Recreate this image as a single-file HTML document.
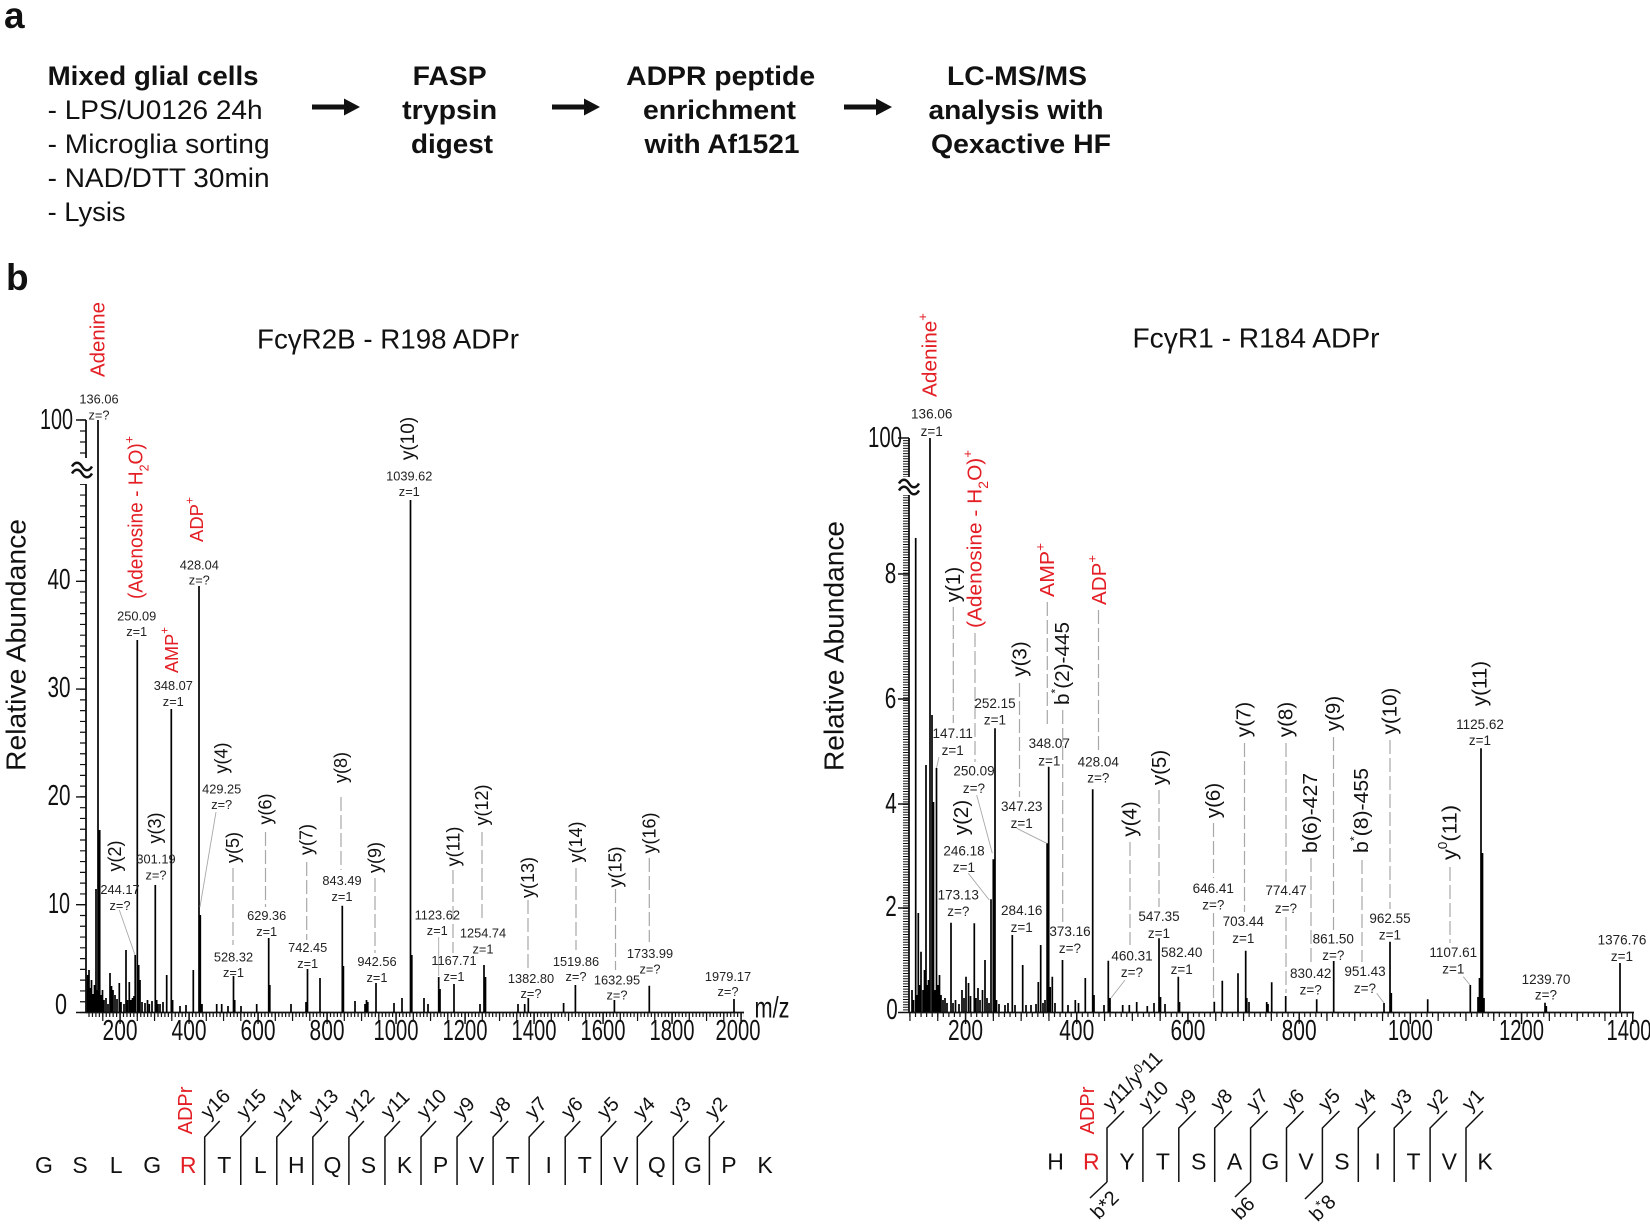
<!DOCTYPE html>
<html><head><meta charset="utf-8"><style>
html,body{margin:0;padding:0;background:#fff;}
svg{display:block;}
text{font-family:"Liberation Sans",Arial,sans-serif;}
</style></head><body>
<svg width="1650" height="1230" viewBox="0 0 1650 1230" xmlns="http://www.w3.org/2000/svg">
<rect width="1650" height="1230" fill="#fff"/>

<!-- ===== Panel a ===== -->
<text x="4" y="28" font-size="37" font-weight="bold" fill="#111">a</text>
<text x="6" y="290" font-size="37" font-weight="bold" fill="#111">b</text>

<g font-size="27" fill="#111" lengthAdjust="spacingAndGlyphs">
<text x="47.6" y="85" font-weight="bold" textLength="211" lengthAdjust="spacingAndGlyphs">Mixed glial cells</text>
<text x="47.6" y="119" textLength="215" lengthAdjust="spacingAndGlyphs">- LPS/U0126 24h</text>
<text x="47.6" y="153" textLength="222" lengthAdjust="spacingAndGlyphs">- Microglia sorting</text>
<text x="47.6" y="187" textLength="222" lengthAdjust="spacingAndGlyphs">- NAD/DTT 30min</text>
<text x="47.6" y="221" textLength="78" lengthAdjust="spacingAndGlyphs">- Lysis</text>
</g>
<g font-size="27" fill="#111" font-weight="bold" text-anchor="middle">
<text x="449.7" y="85" textLength="74" lengthAdjust="spacingAndGlyphs">FASP</text>
<text x="449.7" y="119" textLength="95" lengthAdjust="spacingAndGlyphs">trypsin</text>
<text x="452" y="153" textLength="82" lengthAdjust="spacingAndGlyphs">digest</text>
<text x="720.6" y="85" textLength="189" lengthAdjust="spacingAndGlyphs">ADPR peptide</text>
<text x="719.5" y="119" textLength="153" lengthAdjust="spacingAndGlyphs">enrichment</text>
<text x="722" y="153" textLength="155" lengthAdjust="spacingAndGlyphs">with Af1521</text>
<text x="1017" y="85" textLength="140" lengthAdjust="spacingAndGlyphs">LC-MS/MS</text>
<text x="1016" y="119" textLength="175" lengthAdjust="spacingAndGlyphs">analysis with</text>
<text x="1021" y="153" textLength="180" lengthAdjust="spacingAndGlyphs">Qexactive HF</text>
</g>
<g fill="#111">
<path d="M312,104.5 H344 V98.5 L360,107 L344,115.5 V109.5 H312 Z"/>
<path d="M552,104.5 H584 V98.5 L600,107 L584,115.5 V109.5 H552 Z"/>
<path d="M844,104.5 H876 V98.5 L892,107 L876,115.5 V109.5 H844 Z"/>
</g>

<!-- ===== Titles ===== -->
<text x="388" y="339" font-size="27.6" text-anchor="middle" dominant-baseline="central" fill="#111" textLength="262" lengthAdjust="spacingAndGlyphs">FcγR2B - R198 ADPr</text>
<text x="1256" y="338" font-size="27.6" text-anchor="middle" dominant-baseline="central" fill="#111" textLength="247" lengthAdjust="spacingAndGlyphs">FcγR1 - R184 ADPr</text>

<!-- Y axis titles -->
<text transform="translate(16,645) rotate(-90)" font-size="28" text-anchor="middle" dominant-baseline="central" fill="#111" textLength="252" lengthAdjust="spacingAndGlyphs">Relative Abundance</text>
<text transform="translate(834,646) rotate(-90)" font-size="28" text-anchor="middle" dominant-baseline="central" fill="#111" textLength="250" lengthAdjust="spacingAndGlyphs">Relative Abundance</text>

<!-- ===== LEFT AXES ===== -->
<g stroke="#111" fill="none">
<path d="M86,420 V458 M86,484 V1012.5 M86,1012.5 H744" stroke-width="1.8"/>
<line x1="83" y1="1013.1" x2="83" y2="484" stroke-width="6" stroke-dasharray="1.2 9.58"/>
<line x1="83" y1="419.4" x2="83" y2="458" stroke-width="6" stroke-dasharray="1.2 9.8"/>
<path d="M76,420H86 M76,581.3H86 M76,689.1H86 M76,796.9H86 M76,904.7H86 M76,1012.5H86" stroke-width="1.4"/>
<line x1="88.4" y1="1015" x2="744" y2="1015" stroke-width="4" stroke-dasharray="1.2 2.25"/>
<line x1="102.2" y1="1017" x2="744" y2="1017" stroke-width="8" stroke-dasharray="1.2 16.05"/>
<path d="M120.06,1012.5V1024 M189.06,1012.5V1024 M258.06,1012.5V1024 M327.06,1012.5V1024 M396.06,1012.5V1024 M465.06,1012.5V1024 M534.06,1012.5V1024 M603.06,1012.5V1024 M672.06,1012.5V1024 M741.06,1012.5V1024" stroke-width="1.4"/>
<path d="M72,466.5 c3,-5 7,-5 10,0 s7,5 10,0 M72,473.5 c3,-5 7,-5 10,0 s7,5 10,0" stroke-width="2.5"/>
</g>
<g font-size="29" text-anchor="middle" dominant-baseline="central" fill="#111">
<text x="56.5" y="420" textLength="33" lengthAdjust="spacingAndGlyphs">100</text>
<text x="59" y="580" textLength="23" lengthAdjust="spacingAndGlyphs">40</text>
<text x="59" y="688" textLength="23" lengthAdjust="spacingAndGlyphs">30</text>
<text x="59" y="796" textLength="23" lengthAdjust="spacingAndGlyphs">20</text>
<text x="59" y="904" textLength="22" lengthAdjust="spacingAndGlyphs">10</text>
<text x="61" y="1005" textLength="12" lengthAdjust="spacingAndGlyphs">0</text>
<text x="120.06" y="1031" textLength="35" lengthAdjust="spacingAndGlyphs">200</text>
<text x="189.06" y="1031" textLength="35" lengthAdjust="spacingAndGlyphs">400</text>
<text x="258.06" y="1031" textLength="35" lengthAdjust="spacingAndGlyphs">600</text>
<text x="327.06" y="1031" textLength="35" lengthAdjust="spacingAndGlyphs">800</text>
<text x="396.06" y="1031" textLength="45" lengthAdjust="spacingAndGlyphs">1000</text>
<text x="465.06" y="1031" textLength="45" lengthAdjust="spacingAndGlyphs">1200</text>
<text x="534.06" y="1031" textLength="45" lengthAdjust="spacingAndGlyphs">1400</text>
<text x="603.06" y="1031" textLength="45" lengthAdjust="spacingAndGlyphs">1600</text>
<text x="672.06" y="1031" textLength="45" lengthAdjust="spacingAndGlyphs">1800</text>
<text x="738" y="1031" textLength="45" lengthAdjust="spacingAndGlyphs">2000</text>
<text x="772" y="1008" font-size="30" textLength="35" lengthAdjust="spacingAndGlyphs">m/z</text>
</g>

<!-- LEFT bars -->
<path stroke="#000" stroke-width="1.7" fill="none" d="M87.5,1012V975 M89,1012V970 M90.5,1012V988 M91.5,1012V980 M93,1012V994 M94.5,1012V985 M96,1012V889 M97,1012V990 M98,1012V420 M99.7,1012V830 M101,1012V995 M102.5,1012V990 M104,1012V1000 M106,1012V998 M108,1012V1004 M110,1012V973 M111.5,1012V986 M113,1012V990 M115,1012V995 M117,1012V999 M119.3,1012V983 M121,1012V1002 M124,1012V1004 M126,1012V950 M127.5,1012V1000 M129.3,1012V982 M131,1012V1000 M132.5,1012V998 M134,1012V996 M135.2,1012V955 M137.3,1012V640 M138.7,1012V965 M140,1012V980 M142,1012V1002 M145,1012V1003 M147.5,1012V1000 M149.3,1012V1004 M152,1012V1001 M155.3,1012V885 M156.7,1012V1000 M158,1012V1004 M160,1012V1004 M163,1012V1002 M166.7,1012V975 M171.3,1012V709 M172.6,1012V1000 M180,1012V1006 M186,1012V1005 M193.3,1012V970 M199,1012V586 M200.3,1012V915 M202,1012V1004 M216.7,1012V1004 M221.7,1012V1004 M228,1012V1006 M233.5,1012V976 M234.7,1012V1000 M241,1012V1006 M256.7,1012V1004 M268.7,1012V938 M269.8,1012V985 M291,1012V1004 M306,1012V1002 M307.5,1012V969 M320,1012V978 M342.3,1012V905.7 M343.4,1012V966 M355,1012V1001 M365,1012V1004 M366.5,1012V1000 M367.8,1012V1002 M376,1012V983 M394,1012V1003 M402,1012V998 M410.5,1012V500 M411.8,1012V955 M424,1012V998 M428,1012V1004 M438.7,1012V977 M440,1012V989 M454,1012V984 M480,1012V1004 M484,1012V965 M485.5,1012V977 M518,1012V1004 M524.7,1012V1004 M528.3,1012V998 M563.6,1012V1003 M575.4,1012V985 M614.4,1012V1000 M649.3,1012V985.7 M734,1012V999"/>

<!-- LEFT dashed / connector lines -->
<g stroke="#a8a8a8" stroke-width="1.2" fill="none">
<path stroke-dasharray="14 4" d="M233,868V945 M265.5,832V907 M306.7,862V940 M341,797V870 M375,878V953 M453,870V953 M482,832V920 M528,900V968 M576,868V950 M615.5,889V970 M649.3,858V942"/>
<path stroke-width="0.9" d="M216,812L200,907 M119.3,910L135,955 M438.7,937V976"/>
</g>

<!-- LEFT red labels -->
<g fill="#e31e24" text-anchor="middle" dominant-baseline="central" font-size="20">
<text transform="translate(98.3,339.5) rotate(-90)" textLength="75" lengthAdjust="spacingAndGlyphs">Adenine</text>
<text transform="translate(136.7,517.5) rotate(-90)" textLength="163" lengthAdjust="spacingAndGlyphs">(Adenosine - H<tspan baseline-shift="sub" font-size="13">2</tspan>O)<tspan baseline-shift="super" font-size="13">+</tspan></text>
<text transform="translate(171.7,650) rotate(-90)" font-size="18.5" textLength="46" lengthAdjust="spacingAndGlyphs">AMP<tspan baseline-shift="super" font-size="12">+</tspan></text>
<text transform="translate(196.7,519.5) rotate(-90)" font-size="18.5" textLength="45" lengthAdjust="spacingAndGlyphs">ADP<tspan baseline-shift="super" font-size="12">+</tspan></text>
</g>

<!-- LEFT black rotated labels -->
<g fill="#111" text-anchor="middle" dominant-baseline="central" font-size="18">
<text transform="translate(115,856) rotate(-90)">y(2)</text>
<text transform="translate(155,828) rotate(-90)">y(3)</text>
<text transform="translate(221.7,758) rotate(-90)">y(4)</text>
<text transform="translate(233,847.5) rotate(-90)">y(5)</text>
<text transform="translate(265.5,809) rotate(-90)">y(6)</text>
<text transform="translate(306.7,839.5) rotate(-90)">y(7)</text>
<text transform="translate(341,767.5) rotate(-90)">y(8)</text>
<text transform="translate(375,857.5) rotate(-90)">y(9)</text>
<text transform="translate(408.3,438.5) rotate(-90)" font-size="19">y(10)</text>
<text transform="translate(453.3,846.5) rotate(-90)">y(11)</text>
<text transform="translate(482,805) rotate(-90)">y(12)</text>
<text transform="translate(528,877.5) rotate(-90)">y(13)</text>
<text transform="translate(576,842) rotate(-90)">y(14)</text>
<text transform="translate(615.5,867) rotate(-90)">y(15)</text>
<text transform="translate(649.3,833) rotate(-90)">y(16)</text>
</g>

<!-- LEFT number labels -->
<g fill="#222" text-anchor="middle" dominant-baseline="central" font-size="12.8">
<text x="99" y="399">136.06</text><text x="99" y="415">z=?</text>
<text x="136.7" y="616">250.09</text><text x="136.7" y="631.7">z=1</text>
<text x="173.3" y="685.7">348.07</text><text x="173.3" y="701.7">z=1</text>
<text x="199.3" y="565">428.04</text><text x="199.3" y="580">z=?</text>
<text x="409.3" y="476">1039.62</text><text x="409.3" y="491.7">z=1</text>
<text x="221.7" y="789">429.25</text><text x="221.7" y="804.7">z=?</text>
<text x="156" y="859">301.19</text><text x="156" y="875">z=?</text>
<text x="120" y="889.3">244.17</text><text x="120" y="905.7">z=?</text>
<text x="233.5" y="957">528.32</text><text x="233.5" y="972.3">z=1</text>
<text x="266.7" y="915.7">629.36</text><text x="266.7" y="931.3">z=1</text>
<text x="307.7" y="947.7">742.45</text><text x="307.7" y="963.3">z=1</text>
<text x="342" y="880.7">843.49</text><text x="342" y="896.7">z=1</text>
<text x="377" y="961.7">942.56</text><text x="377" y="977.7">z=1</text>
<text x="437.3" y="915">1123.62</text><text x="437.3" y="930.7">z=1</text>
<text x="454" y="960.7">1167.71</text><text x="454" y="976.7">z=1</text>
<text x="483" y="933">1254.74</text><text x="483" y="949">z=1</text>
<text x="531" y="978.3">1382.80</text><text x="531" y="993.3">z=?</text>
<text x="576" y="961.7">1519.86</text><text x="576" y="976.7">z=?</text>
<text x="617" y="980">1632.95</text><text x="617" y="995">z=?</text>
<text x="650" y="953.3">1733.99</text><text x="650" y="969">z=?</text>
<text x="728" y="976.7">1979.17</text><text x="728" y="991.7">z=?</text>
</g>

<!-- ===== RIGHT AXES ===== -->
<g stroke="#111" fill="none">
<path d="M909,438 V477 M909,495 V1012.5 M909,1012.5 H1634" stroke-width="1.8"/>
<line x1="906" y1="1013" x2="906" y2="495" stroke-width="6" stroke-dasharray="1 1.6"/>
<line x1="906" y1="437.5" x2="906" y2="477" stroke-width="6" stroke-dasharray="1 1.6"/>
<path d="M898,438H909 M898,574H909 M898,699H909 M898,804H909 M898,908H909 M898,1012.5H909" stroke-width="1.4"/>
<line x1="909.35" y1="1015" x2="1634" y2="1015" stroke-width="4" stroke-dasharray="1.2 4.36"/>
<line x1="909.35" y1="1017" x2="1634" y2="1017" stroke-width="8" stroke-dasharray="1.2 26.6"/>
<path d="M965.55,1012.5V1024 M1076.75,1012.5V1024 M1187.95,1012.5V1024 M1299.15,1012.5V1024 M1410.35,1012.5V1024 M1521.55,1012.5V1024 M1632.75,1012.5V1024" stroke-width="1.4"/>
<path d="M899,483.5 c3,-5 7,-5 10,0 s7,5 10,0 M899,490.5 c3,-5 7,-5 10,0 s7,5 10,0" stroke-width="2.5"/>
</g>
<g font-size="29" text-anchor="middle" dominant-baseline="central" fill="#111">
<text x="885" y="438" textLength="34" lengthAdjust="spacingAndGlyphs">100</text>
<text x="890.5" y="574" textLength="11.5" lengthAdjust="spacingAndGlyphs">8</text>
<text x="890.5" y="699" textLength="11.5" lengthAdjust="spacingAndGlyphs">6</text>
<text x="891" y="804" textLength="11.5" lengthAdjust="spacingAndGlyphs">4</text>
<text x="891" y="907" textLength="11.5" lengthAdjust="spacingAndGlyphs">2</text>
<text x="892" y="1010" textLength="11.5" lengthAdjust="spacingAndGlyphs">0</text>
<text x="965.55" y="1031" textLength="35" lengthAdjust="spacingAndGlyphs">200</text>
<text x="1076.75" y="1031" textLength="35" lengthAdjust="spacingAndGlyphs">400</text>
<text x="1187.95" y="1031" textLength="35" lengthAdjust="spacingAndGlyphs">600</text>
<text x="1299.15" y="1031" textLength="35" lengthAdjust="spacingAndGlyphs">800</text>
<text x="1410.35" y="1031" textLength="45" lengthAdjust="spacingAndGlyphs">1000</text>
<text x="1521.55" y="1031" textLength="45" lengthAdjust="spacingAndGlyphs">1200</text>
<text x="1629" y="1031" textLength="45" lengthAdjust="spacingAndGlyphs">1400</text>
</g>

<!-- RIGHT bars -->
<path stroke="#000" stroke-width="1.7" fill="none" d="M912,1012V990 M913.5,1012V1000 M915.7,1012V538 M917,1012V995 M918.3,1012V913 M920,1012V985 M921,1012V951.7 M923,1012V990 M924.5,1012V970 M926,1012V765 M927.5,1012V985 M928.5,1012V980 M930,1012V438 M932,1012V715 M933.5,1012V802 M935,1012V990 M936.5,1012V768 M938,1012V985 M939.5,1012V975 M941,1012V995 M943,1012V1000 M945,1012V998 M947,1012V1003 M951,1012V922.7 M953,1012V1003 M955.5,1012V1000 M959,1012V1004 M962,1012V990 M964,1012V998 M966,1012V976.7 M968.5,1012V983 M970.5,1012V996 M974.3,1012V923.3 M976,1012V998 M978,1012V988 M980,1012V1000 M982.5,1012V990 M985,1012V960 M987,1012V998 M989,1012V1003 M991,1012V899.3 M993.3,1012V859.3 M995,1012V728.3 M996.5,1012V1000 M999,1012V1004 M1005,1012V1005 M1008,1012V1003 M1012.3,1012V935 M1015,1012V1005 M1022.7,1012V965 M1026,1012V1005 M1031,1012V1005 M1036,1012V1004 M1038.3,1012V982 M1040.7,1012V945 M1043,1012V1003 M1045,1012V1000 M1047.1,1012V843.3 M1048.7,1012V766.7 M1050.2,1012V987 M1052.3,1012V976.7 M1055,1012V1003 M1062.5,1012V960 M1068,1012V1005 M1075.3,1012V1000 M1078.5,1012V1003 M1085.3,1012V978 M1092.7,1012V789.3 M1094,1012V995 M1104,1012V1005 M1108.3,1012V960.7 M1110,1012V998 M1122.7,1012V1005 M1129.3,1012V1005 M1136.7,1012V1002 M1147.3,1012V1006 M1154,1012V1003 M1159,1012V938.3 M1160.5,1012V997 M1165,1012V1004 M1178.3,1012V976.7 M1179.5,1012V1002 M1214.3,1012V1001.7 M1222.3,1012V980.7 M1238,1012V973.3 M1245.7,1012V950.7 M1246.8,1012V998 M1249,1012V1002 M1266.7,1012V1002 M1268,1012V1004 M1271.7,1012V982.3 M1285.7,1012V996 M1316.7,1012V999.3 M1333.7,1012V961 M1384,1012V1003 M1390,1012V941.7 M1391.3,1012V993 M1427.7,1012V999.3 M1470.3,1012V985 M1478,1012V997 M1479.5,1012V978 M1481,1012V748.3 M1482.5,1012V853 M1484,1012V998 M1545,1012V1002.7 M1546.3,1012V1006 M1620,1012V963"/>

<!-- RIGHT dashed / connectors -->
<g stroke="#a8a8a8" stroke-width="1.2" fill="none">
<path stroke-dasharray="14 4" d="M953.3,607V723 M975,633V762 M1047.3,602V728 M1098.5,610V752 M1019.5,683V797 M1062.7,710V922 M1130,842V945 M1159,790V907 M1213.5,823V878 M1213.5,913V998 M1244.5,743V912 M1286,743V882 M1286,917V993 M1311,858V964 M1333.5,737V930 M1362,860V962 M1390,740V909 M1450,867V943"/>
<path stroke-width="0.9" d="M939,757L936.5,768 M976.7,795L992.3,853.3 M968.3,873.3L989.3,900 M1016.7,828.3L1046.7,843.3 M1125,980L1111,998 M1376.7,993.3L1384,1003 M1463.3,976.7L1470,985"/>
</g>

<!-- RIGHT red labels -->
<g fill="#e31e24" text-anchor="middle" dominant-baseline="central" font-size="20.5">
<text transform="translate(930,355) rotate(-90)" textLength="84" lengthAdjust="spacingAndGlyphs">Adenine<tspan baseline-shift="super" font-size="13">+</tspan></text>
<text transform="translate(975,539) rotate(-90)" textLength="178" lengthAdjust="spacingAndGlyphs">(Adenosine - H<tspan baseline-shift="sub" font-size="14">2</tspan>O)<tspan baseline-shift="super" font-size="13">+</tspan></text>
<text transform="translate(1047.3,570) rotate(-90)" textLength="54" lengthAdjust="spacingAndGlyphs">AMP<tspan baseline-shift="super" font-size="13">+</tspan></text>
<text transform="translate(1099.3,580) rotate(-90)" textLength="50" lengthAdjust="spacingAndGlyphs">ADP<tspan baseline-shift="super" font-size="13">+</tspan></text>
</g>

<!-- RIGHT black rotated labels -->
<g fill="#111" text-anchor="middle" dominant-baseline="central" font-size="20.5">
<text transform="translate(953.3,584.5) rotate(-90)">y(1)</text>
<text transform="translate(961.7,817.5) rotate(-90)">y(2)</text>
<text transform="translate(1020,659) rotate(-90)">y(3)</text>
<text transform="translate(1062.7,663.5) rotate(-90)" textLength="83" lengthAdjust="spacingAndGlyphs">b<tspan baseline-shift="super" font-size="12">*</tspan>(2)-445</text>
<text transform="translate(1130,819) rotate(-90)">y(4)</text>
<text transform="translate(1159.3,767.5) rotate(-90)">y(5)</text>
<text transform="translate(1213.3,800.5) rotate(-90)">y(6)</text>
<text transform="translate(1244,719.5) rotate(-90)">y(7)</text>
<text transform="translate(1286,719.5) rotate(-90)">y(8)</text>
<text transform="translate(1310.7,813) rotate(-90)" textLength="80" lengthAdjust="spacingAndGlyphs">b(6)-427</text>
<text transform="translate(1333.3,713.5) rotate(-90)">y(9)</text>
<text transform="translate(1361.7,810.5) rotate(-90)" textLength="85" lengthAdjust="spacingAndGlyphs">b<tspan baseline-shift="super" font-size="12">*</tspan>(8)-455</text>
<text transform="translate(1390,711) rotate(-90)">y(10)</text>
<text transform="translate(1450,832.5) rotate(-90)" textLength="55" lengthAdjust="spacingAndGlyphs">y<tspan baseline-shift="super" font-size="13">0</tspan>(11)</text>
<text transform="translate(1480,683.5) rotate(-90)">y(11)</text>
</g>

<!-- RIGHT number labels -->
<g fill="#222" text-anchor="middle" dominant-baseline="central" font-size="13.5">
<text x="931.7" y="414">136.06</text><text x="931.7" y="431.7">z=1</text>
<text x="952.7" y="733.3">147.11</text><text x="952.7" y="750.7">z=1</text>
<text x="995" y="703.7">252.15</text><text x="995" y="720">z=1</text>
<text x="974" y="771">250.09</text><text x="974" y="788.3">z=?</text>
<text x="964" y="851">246.18</text><text x="964" y="867.7">z=1</text>
<text x="958.3" y="895">173.13</text><text x="958.3" y="911.7">z=?</text>
<text x="1049.3" y="743.3">348.07</text><text x="1049.3" y="761">z=1</text>
<text x="1021.7" y="806.7">347.23</text><text x="1021.7" y="823.3">z=1</text>
<text x="1021.7" y="910.7">284.16</text><text x="1021.7" y="927.7">z=1</text>
<text x="1098.3" y="762">428.04</text><text x="1098.3" y="778">z=?</text>
<text x="1070" y="931.7">373.16</text><text x="1070" y="948.3">z=?</text>
<text x="1132" y="956">460.31</text><text x="1132" y="972.7">z=?</text>
<text x="1159" y="916.7">547.35</text><text x="1159" y="933.3">z=1</text>
<text x="1181.7" y="952.7">582.40</text><text x="1181.7" y="969.3">z=1</text>
<text x="1213.3" y="888.3">646.41</text><text x="1213.3" y="905">z=?</text>
<text x="1243.3" y="921.7">703.44</text><text x="1243.3" y="938.3">z=1</text>
<text x="1286" y="890.7">774.47</text><text x="1286" y="908.3">z=?</text>
<text x="1310.7" y="973.3">830.42</text><text x="1310.7" y="990">z=?</text>
<text x="1333.3" y="939">861.50</text><text x="1333.3" y="955.7">z=?</text>
<text x="1365" y="971.7">951.43</text><text x="1365" y="988.3">z=?</text>
<text x="1390" y="918.3">962.55</text><text x="1390" y="935">z=1</text>
<text x="1453.3" y="952.3">1107.61</text><text x="1453.3" y="969">z=1</text>
<text x="1480" y="724.3">1125.62</text><text x="1480" y="740.7">z=1</text>
<text x="1546" y="979.3">1239.70</text><text x="1546" y="995">z=?</text>
<text x="1622" y="940">1376.76</text><text x="1622" y="956.5">z=1</text>
</g>

<!-- ===== LEFT SEQUENCE ===== -->
<g font-size="23" text-anchor="middle" dominant-baseline="central" fill="#111">
<text x="44" y="1165">G</text><text x="80.05" y="1165">S</text><text x="116.1" y="1165">L</text><text x="152.15" y="1165">G</text>
<text x="188.2" y="1165" fill="#e31e24">R</text>
<text x="224.25" y="1165">T</text><text x="260.3" y="1165">L</text><text x="296.35" y="1165">H</text><text x="332.4" y="1165">Q</text>
<text x="368.45" y="1165">S</text><text x="404.5" y="1165">K</text><text x="440.55" y="1165">P</text><text x="476.6" y="1165">V</text>
<text x="512.65" y="1165">T</text><text x="548.7" y="1165">I</text><text x="584.75" y="1165">T</text><text x="620.8" y="1165">V</text>
<text x="656.85" y="1165">Q</text><text x="692.9" y="1165">G</text><text x="728.95" y="1165">P</text><text x="765" y="1165">K</text>
</g>
<text transform="translate(186,1110.5) rotate(-90)" font-size="20" text-anchor="middle" dominant-baseline="central" fill="#e31e24">ADPr</text>
<path stroke="#111" stroke-width="1.5" fill="none" d="M204.7,1185V1137L219.7,1121 M240.75,1185V1137L255.75,1121 M276.8,1185V1137L291.8,1121 M312.85,1185V1137L327.85,1121 M348.9,1185V1137L363.9,1121 M384.95,1185V1137L399.95,1121 M421,1185V1137L436,1121 M457.05,1185V1137L472.05,1121 M493.1,1185V1137L508.1,1121 M529.15,1185V1137L544.15,1121 M565.2,1185V1137L580.2,1121 M601.25,1185V1137L616.25,1121 M637.3,1185V1137L652.3,1121 M673.35,1185V1137L688.35,1121 M709.4,1185V1137L724.4,1121"/>
<g font-size="20" fill="#111">
<text transform="translate(208.7,1120) rotate(-45)">y16</text>
<text transform="translate(244.75,1120) rotate(-45)">y15</text>
<text transform="translate(280.8,1120) rotate(-45)">y14</text>
<text transform="translate(316.85,1120) rotate(-45)">y13</text>
<text transform="translate(352.9,1120) rotate(-45)">y12</text>
<text transform="translate(388.95,1120) rotate(-45)">y11</text>
<text transform="translate(425,1120) rotate(-45)">y10</text>
<text transform="translate(461.05,1120) rotate(-45)">y9</text>
<text transform="translate(497.1,1120) rotate(-45)">y8</text>
<text transform="translate(533.15,1120) rotate(-45)">y7</text>
<text transform="translate(569.2,1120) rotate(-45)">y6</text>
<text transform="translate(605.25,1120) rotate(-45)">y5</text>
<text transform="translate(641.3,1120) rotate(-45)">y4</text>
<text transform="translate(677.35,1120) rotate(-45)">y3</text>
<text transform="translate(713.4,1120) rotate(-45)">y2</text>
</g>

<!-- ===== RIGHT SEQUENCE ===== -->
<g font-size="23" text-anchor="middle" dominant-baseline="central" fill="#111">
<text x="1055.5" y="1161.7">H</text>
<text x="1091.3" y="1161.7" fill="#e31e24">R</text>
<text x="1127.1" y="1161.7">Y</text><text x="1162.9" y="1161.7">T</text><text x="1198.7" y="1161.7">S</text>
<text x="1234.5" y="1161.7">A</text><text x="1270.3" y="1161.7">G</text><text x="1306.1" y="1161.7">V</text>
<text x="1341.9" y="1161.7">S</text><text x="1377.7" y="1161.7">I</text><text x="1413.5" y="1161.7">T</text>
<text x="1449.3" y="1161.7">V</text><text x="1485.1" y="1161.7">K</text>
</g>
<text transform="translate(1088,1110.5) rotate(-90)" font-size="20" text-anchor="middle" dominant-baseline="central" fill="#e31e24">ADPr</text>
<path stroke="#111" stroke-width="1.5" fill="none" d="M1107,1182V1128L1124,1111 M1142.9,1182V1128L1159.9,1111 M1178.8,1182V1128L1195.8,1111 M1214.7,1182V1128L1231.7,1111 M1250.6,1182V1128L1267.6,1111 M1286.5,1182V1128L1303.5,1111 M1322.4,1182V1128L1339.4,1111 M1358.3,1182V1128L1375.3,1111 M1394.2,1182V1128L1411.2,1111 M1430.1,1182V1128L1447.1,1111 M1466,1182V1128L1483,1111 M1107,1182L1090,1198 M1250.6,1182L1235,1197 M1322.4,1182L1305,1199"/>
<g font-size="20" fill="#111">
<text transform="translate(1111,1112) rotate(-45)">y11/y<tspan baseline-shift="super" font-size="13">0</tspan>11</text>
<text transform="translate(1146.9,1112) rotate(-45)">y10</text>
<text transform="translate(1182.8,1112) rotate(-45)">y9</text>
<text transform="translate(1218.7,1112) rotate(-45)">y8</text>
<text transform="translate(1254.6,1112) rotate(-45)">y7</text>
<text transform="translate(1290.5,1112) rotate(-45)">y6</text>
<text transform="translate(1326.4,1112) rotate(-45)">y5</text>
<text transform="translate(1362.3,1112) rotate(-45)">y4</text>
<text transform="translate(1398.2,1112) rotate(-45)">y3</text>
<text transform="translate(1434.1,1112) rotate(-45)">y2</text>
<text transform="translate(1470,1112) rotate(-45)">y1</text>
</g>
<g font-size="20" fill="#111" text-anchor="end">
<text transform="translate(1120,1199) rotate(-45)">b*2</text>
<text transform="translate(1256,1205) rotate(-45)">b6</text>
<text transform="translate(1337,1203) rotate(-45)">b<tspan baseline-shift="super" font-size="13">*</tspan>8</text>
</g>
</svg>
</body></html>
